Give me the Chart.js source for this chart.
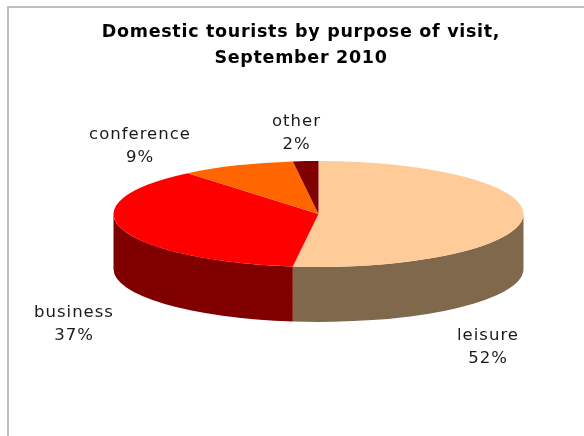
<!DOCTYPE html>
<html>
<head>
<meta charset="utf-8">
<title>Domestic tourists by purpose of visit</title>
<script src="https://cdn.jsdelivr.net/npm/chart.js@4/dist/chart.umd.min.js"></script>
<style>
  html, body { margin: 0; padding: 0; background: #fff; overflow: hidden; }
  #wrap { position: relative; width: 584px; height: 436px; overflow: hidden; }
  #frame { position: absolute; left: 7px; top: 6px; width: 600px; height: 460px; border-left: 2px solid #c0c0c0; border-top: 2px solid #c0c0c0; }
  #grafico { position: absolute; left: 0; top: 0; }
</style>
</head>
<body>
<div id="wrap">
  <div id="frame"></div>
  <canvas id="grafico" width="584" height="436"></canvas>
</div>
<script>
const categorias = ["leisure", "business", "conference", "other"];
const valores = [52, 37, 9, 2];
const coloresTapa = ["#FFCC99", "#FF0000", "#FF6600", "#800000"];
const coloresLado = ["#80684D", "#800000", "#803300", "#400000"];
const titulo = ["Domestic tourists by purpose of visit,", "September 2010"];

// centro de cada etiqueta en pixeles
const posEtiquetas = [[488, 336], [74, 313], [140, 135], [296.5, 122]];

const CENTRO_X = 318.5;
const CENTRO_Y = 214;
const RADIO = 205;
const APLASTADO = 53 / 205;
const PROFUNDIDAD = 55;
const FUENTE = '"DejaVu Sans", Verdana, sans-serif';

function aplicarVista(ctx, arco) {
  ctx.translate(CENTRO_X, CENTRO_Y);
  ctx.scale(1, APLASTADO);
  ctx.translate(-arco.x, -arco.y);
}

// pared lateral de la torta, usa la geometria de los arcos de Chart.js
function dibujarLados(ctx, arcos) {
  const alto = PROFUNDIDAD / APLASTADO;
  arcos.forEach((arco, i) => {
    const ini = Math.max(arco.startAngle, 0);
    const fin = Math.min(arco.endAngle, Math.PI);
    if (fin <= ini) return;
    ctx.beginPath();
    ctx.arc(arco.x, arco.y, arco.outerRadius, ini, fin);
    ctx.arc(arco.x, arco.y + alto, arco.outerRadius, fin, ini, true);
    ctx.closePath();
    ctx.fillStyle = coloresLado[i];
    ctx.fill();
  });
}

const vista3d = {
  id: "vista3d",
  beforeDraw(chart) {
    // el titulo del original va mas espaciado
    chart.ctx.letterSpacing = "0.7px";
  },
  beforeDatasetsDraw(chart) {
    const ctx = chart.ctx;
    const arcos = chart.getDatasetMeta(0).data;
    ctx.letterSpacing = "0px";
    ctx.save();
    aplicarVista(ctx, arcos[0]);
    dibujarLados(ctx, arcos);
  },
  afterDatasetsDraw(chart) {
    chart.ctx.restore();
  }
};

const etiquetas = {
  id: "etiquetas",
  afterDraw(chart) {
    const ctx = chart.ctx;
    const total = valores.reduce((a, b) => a + b, 0);
    ctx.save();
    ctx.font = "16.5px " + FUENTE;
    ctx.letterSpacing = "1px";
    ctx.fillStyle = "#1a1a1a";
    ctx.textAlign = "center";
    ctx.textBaseline = "middle";
    categorias.forEach((cat, i) => {
      const [x, y] = posEtiquetas[i];
      ctx.fillText(cat, x, y);
      ctx.fillText(Math.round(valores[i] / total * 100) + "%", x, y + 23);
    });
    ctx.restore();
  }
};

new Chart(document.getElementById("grafico"), {
  type: "pie",
  data: {
    labels: categorias,
    datasets: [{
      data: valores,
      backgroundColor: coloresTapa,
      borderWidth: 0,
      radius: RADIO,
      clip: false
    }]
  },
  options: {
    responsive: false,
    animation: false,
    layout: { padding: { left: 18, top: 9 } },
    events: [],
    plugins: {
      legend: { display: false },
      tooltip: { enabled: false },
      title: {
        display: true,
        text: titulo,
        color: "#000",
        font: { family: FUENTE, size: 17.5, weight: "bold", lineHeight: 1.49 }
      }
    }
  },
  plugins: [vista3d, etiquetas]
});
</script>
</body>
</html>
